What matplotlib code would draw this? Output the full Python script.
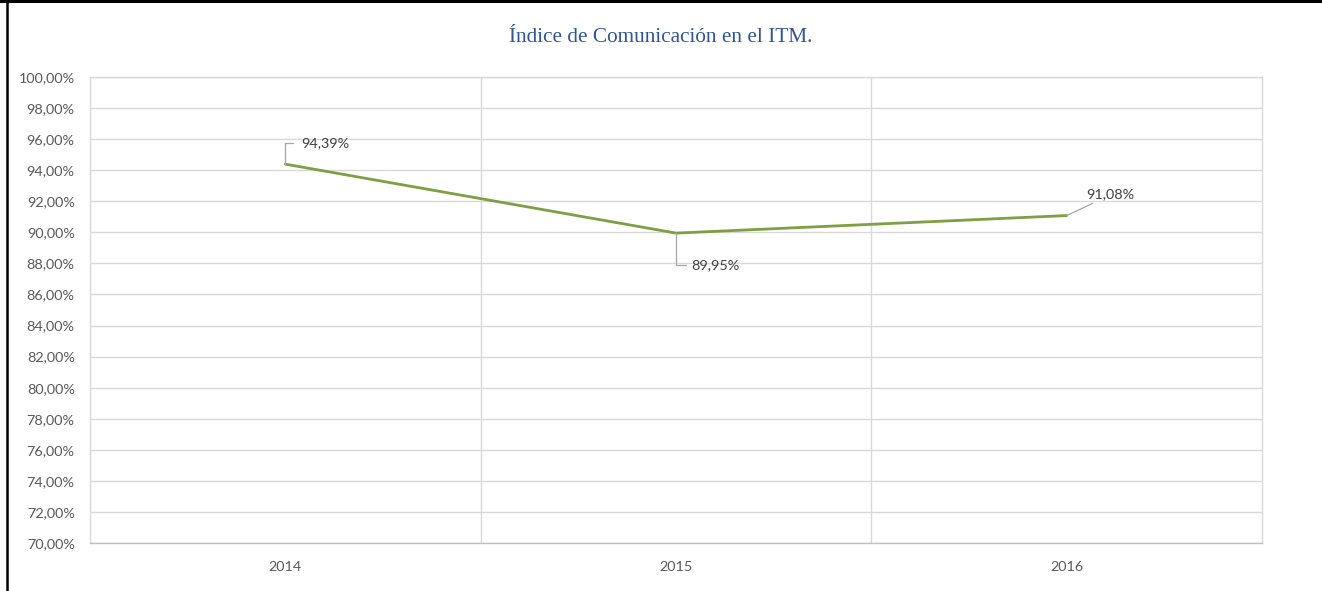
import matplotlib
matplotlib.use('Agg')
import matplotlib.pyplot as plt
from matplotlib.lines import Line2D
import matplotlib.ticker as mticker

years = ['2014', '2015', '2016']
indice = [94.39, 89.95, 91.08]
etiquetas = ['94,39%', '89,95%', '91,08%']

plt.rcParams['font.family'] = ['Lato', 'DejaVu Sans']

fig = plt.figure(figsize=(13.22, 5.91), dpi=100)
ax = fig.add_axes([90/1322, 1 - 543/591, (1262 - 90)/1322, (543 - 77)/591])

x = list(range(len(years)))
ax.plot(x, indice, color='#7F9F43', linewidth=2.0, solid_capstyle='round', zorder=3)

ax.set_xlim(-0.5, len(years) - 0.5)
ax.set_ylim(70, 100)
ax.set_yticks([70 + 2 * i for i in range(16)])
ax.yaxis.set_major_formatter(mticker.FuncFormatter(lambda v, p: ('%.2f' % v).replace('.', ',') + '%'))
ax.set_xticks(x)
ax.set_xticklabels(years)
ax.xaxis.set_minor_locator(mticker.FixedLocator([0.5, 1.5]))

ax.grid(True, axis='y', which='major', color='#D9D9D9', linewidth=1)
ax.grid(True, axis='x', which='minor', color='#D9D9D9', linewidth=1)
ax.set_axisbelow(True)
for s in ax.spines.values():
    s.set_color('#D9D9D9')
    s.set_linewidth(1)
ax.spines['bottom'].set_color('#BFBFBF')

ax.tick_params(axis='both', which='both', length=0, colors='#595959', labelsize=10.4)
ax.tick_params(axis='y', pad=11)
ax.tick_params(axis='x', pad=13)

# etiquetas de datos con lineas guia
lead = dict(arrowstyle='-', color='#A6A6A6', linewidth=0.9, shrinkA=0, shrinkB=0)
ax.annotate(etiquetas[0], (x[0], indice[0]), xytext=(16, 21), textcoords='offset pixels',
            fontsize=10.4, color='#404040', va='center', ha='left',
            arrowprops=dict(lead, connectionstyle='angle,angleA=0,angleB=90,rad=0', relpos=(-0.18, 0.5)))
ax.annotate(etiquetas[1], (x[1], indice[1]), xytext=(15, -32), textcoords='offset pixels',
            fontsize=10.4, color='#404040', va='center', ha='left',
            arrowprops=dict(lead, connectionstyle='angle,angleA=0,angleB=90,rad=0', relpos=(-0.1, 0.5)))
ax.annotate(etiquetas[2], (x[2], indice[2]), xytext=(20, 21), textcoords='offset pixels',
            fontsize=10.4, color='#404040', va='center', ha='left',
            arrowprops=dict(lead, relpos=(0.25, 0.0)))

fig.text(0.5, 1 - 37/591, 'Índice de Comunicación en el ITM.', ha='center', va='center',
         fontsize=15.3, color='#2F5597', family=['Liberation Serif', 'DejaVu Serif'])

# marco del grafico
fig.add_artist(Line2D([7/1322, 7/1322], [0, 1], transform=fig.transFigure, color='black', linewidth=1.8))
fig.add_artist(Line2D([0, 1], [1 - 1/591, 1 - 1/591], transform=fig.transFigure, color='black', linewidth=2.2))

fig.savefig('out.png', dpi=100)
